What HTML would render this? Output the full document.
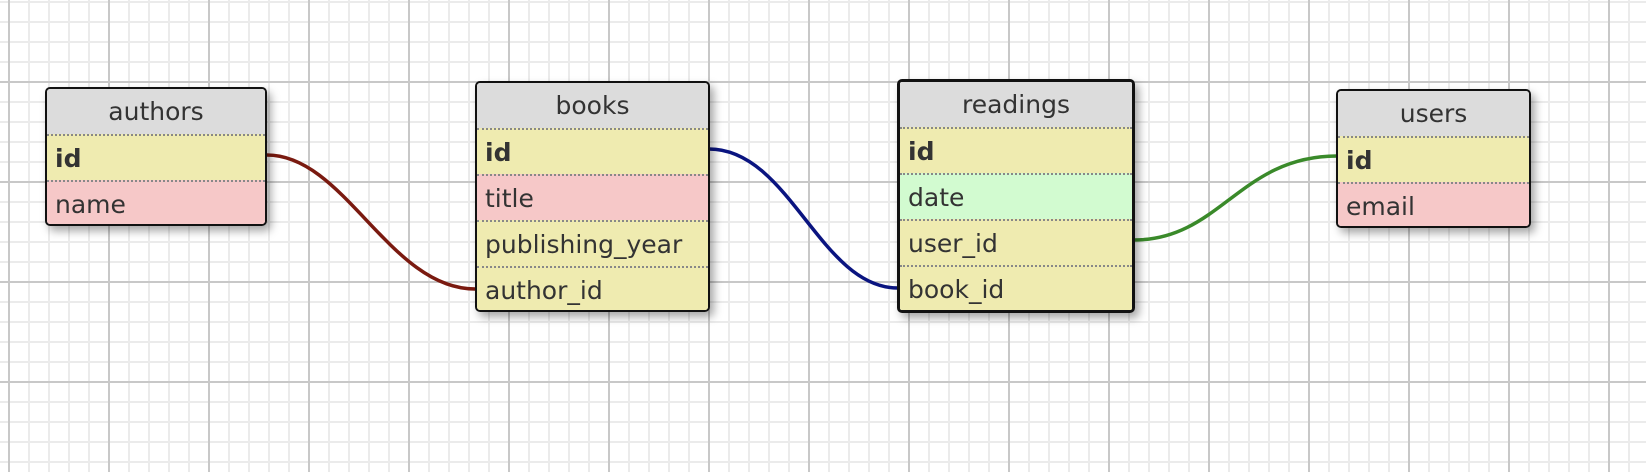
<!DOCTYPE html>
<html><head><meta charset="utf-8"><style>
html,body{margin:0;padding:0}
body{width:1646px;height:472px;position:relative;overflow:hidden;background:#fff;
background-image:
linear-gradient(to right,#c8c8c8 2px,transparent 2px),
linear-gradient(to bottom,#c8c8c8 2px,transparent 2px),
linear-gradient(to right,#ebebeb 2px,transparent 2px),
linear-gradient(to bottom,#ebebeb 2px,transparent 2px);
background-size:100px 100px,100px 100px,20px 20px,20px 20px;
background-position:8px 81px,8px 81px,8px 1px,8px 1px;
font-family:"DejaVu Sans","Liberation Sans",sans-serif;color:#333}
.t{position:absolute;border:2px solid #111;border-radius:5px;overflow:hidden;box-sizing:border-box;
box-shadow:4px 5px 9px rgba(0,0,0,.35)}
.t.sel{border-width:3px}
.r{height:46px;line-height:46px;font-size:25px;padding-left:8px;border-top:2px dotted #888;box-sizing:border-box;white-space:nowrap}
.h{background:#dcdcdc;text-align:center;padding-left:0;border-top:none;height:45px;line-height:45px}
.y{background:#efebb0}.p{background:#f6c8c8}.g{background:#d2fbd0}
.b{font-weight:bold}
svg{position:absolute;left:0;top:0}
</style></head><body>
<svg width="1646" height="472">
<path d="M267 155 C345 155,390 290,476 289" fill="none" stroke="#7a1a10" stroke-width="3.5"/>
<path d="M709 149 C790 149,820 288,898 288" fill="none" stroke="#0a1480" stroke-width="3.5"/>
<path d="M1134 240 C1220 240,1240 156,1337 156" fill="none" stroke="#3a8a2a" stroke-width="3.5"/>
</svg>
<div class="t" style="left:45px;top:87px;width:222px;height:139px">
<div class="r h">authors</div><div class="r y b">id</div><div class="r p">name</div></div>
<div class="t" style="left:475px;top:81px;width:235px;height:231px">
<div class="r h">books</div><div class="r y b">id</div><div class="r p">title</div><div class="r y">publishing_year</div><div class="r y">author_id</div></div>
<div class="t sel" style="left:897px;top:79px;width:238px;height:234px">
<div class="r h">readings</div><div class="r y b">id</div><div class="r g">date</div><div class="r y">user_id</div><div class="r y">book_id</div></div>
<div class="t" style="left:1336px;top:89px;width:195px;height:139px">
<div class="r h">users</div><div class="r y b">id</div><div class="r p">email</div></div>
</body></html>
